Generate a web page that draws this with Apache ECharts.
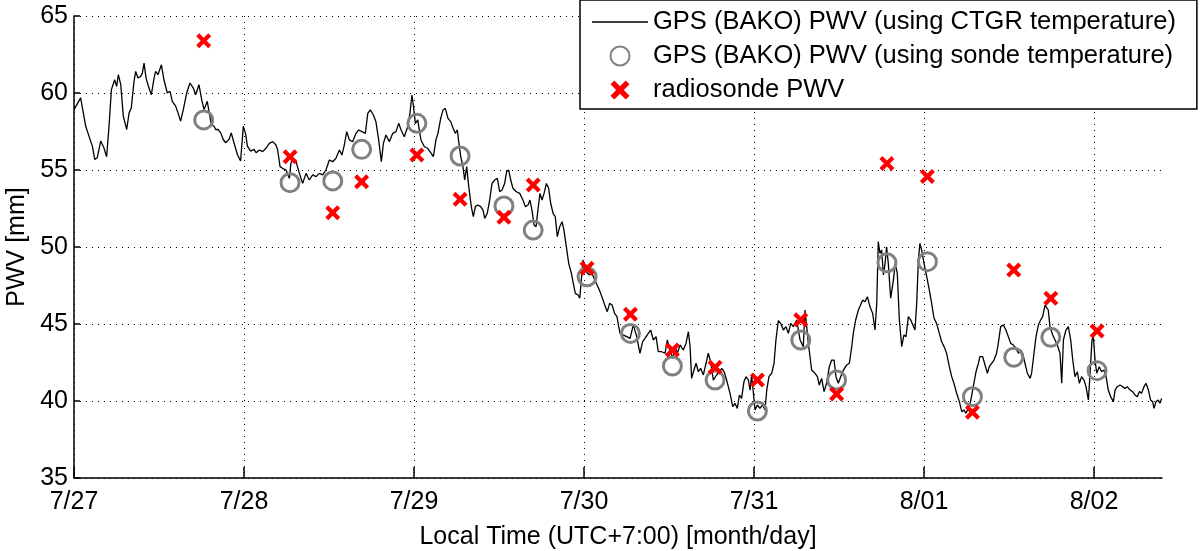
<!DOCTYPE html>
<html>
<head>
<meta charset="utf-8">
<script src="https://cdn.jsdelivr.net/npm/echarts@6/dist/echarts.min.js"></script>
<style>
  html, body { margin: 0; padding: 0; background: #fff; }
  #chart { width: 1200px; height: 551px; }
</style>
</head>
<body>
<div id="chart"></div>
<script>
// x = days since 7/27 00:00 local time
const dayLabels = ['7/27', '7/28', '7/29', '7/30', '7/31', '8/01', '8/02']
const dayTicks = [0, 1, 2, 3, 4, 5, 6]
const yTicks = [35, 40, 45, 50, 55, 60, 65]

// GPS (BAKO) PWV using CTGR temperature, [day, mm]
const gpsCtgr = [
  [0, 58.92], [0.039, 59.68], [0.049, 59.57], [0.069, 57.84], [0.088, 57.20], [0.108, 56.55], [0.122, 55.69], [0.137, 55.80],
  [0.157, 56.88], [0.176, 56.44], [0.192, 55.86], [0.206, 57.84], [0.220, 60.22], [0.239, 60.86], [0.251, 60.43], [0.261, 61.19],
  [0.275, 60.54], [0.290, 58.49], [0.310, 57.63], [0.324, 58.71], [0.337, 59.03], [0.353, 60.75], [0.363, 61.40], [0.376, 60.97],
  [0.392, 61.08], [0.402, 61.29], [0.412, 61.94], [0.424, 60.97], [0.441, 60.32], [0.455, 59.89], [0.471, 60.97], [0.480, 61.40],
  [0.494, 61.19], [0.514, 61.83], [0.529, 60.86], [0.549, 60.00], [0.565, 60.11], [0.578, 59.46], [0.598, 59.14], [0.612, 58.71],
  [0.627, 58.17], [0.643, 58.92], [0.663, 60.00], [0.682, 60.65], [0.702, 60.32], [0.716, 59.89], [0.735, 60.54], [0.751, 59.57],
  [0.765, 58.92], [0.784, 59.46], [0.794, 58.81], [0.808, 57.95], [0.824, 57.84], [0.833, 57.63], [0.847, 57.63], [0.863, 57.41],
  [0.878, 56.98], [0.892, 56.77], [0.912, 56.98], [0.925, 57.41], [0.941, 56.77], [0.961, 56.01], [0.980, 55.58], [0.996, 57.84],
  [1.010, 57.31], [1.020, 56.55], [1.039, 56.23], [1.059, 56.34], [1.071, 56.12],
  [1.090, 56.30], [1.110, 56.19], [1.129, 56.41], [1.149, 56.73], [1.169, 56.84], [1.188, 56.62], [1.198, 56.30], [1.212, 55.22],
  [1.227, 55.11], [1.247, 55.00], [1.257, 55.11], [1.267, 54.46], [1.276, 55.43], [1.290, 55.76], [1.306, 55.54], [1.316, 55.65],
  [1.326, 54.78], [1.345, 54.13], [1.365, 54.78], [1.384, 54.35], [1.404, 54.68], [1.424, 54.57], [1.443, 54.78], [1.463, 54.68],
  [1.482, 55.00], [1.502, 55.65], [1.522, 55.54], [1.541, 55.76], [1.561, 56.30], [1.576, 55.97], [1.590, 56.62], [1.604, 57.49],
  [1.620, 56.95], [1.639, 56.84], [1.659, 57.38], [1.675, 57.60], [1.694, 57.49], [1.714, 57.38], [1.728, 58.68], [1.743, 58.90],
  [1.761, 58.57], [1.776, 58.14], [1.792, 56.95], [1.808, 55.54], [1.820, 56.73], [1.835, 57.27], [1.855, 56.84], [1.875, 57.38],
  [1.894, 57.49], [1.910, 58.03], [1.924, 57.60], [1.943, 57.16], [1.963, 57.81], [1.976, 58.68], [1.988, 59.87], [1.996, 59.22],
  [2.008, 58.03], [2.022, 58.25], [2.031, 57.60], [2.041, 56.95], [2.061, 56.51], [2.080, 56.41], [2.094, 56.19], [2.114, 55.87],
  [2.129, 56.95],
  [2.141, 57.38], [2.157, 58.35], [2.171, 58.90], [2.184, 59.00], [2.200, 58.35], [2.216, 58.14], [2.230, 57.71], [2.243, 57.38],
  [2.255, 57.60], [2.263, 56.84], [2.275, 55.87], [2.288, 55.22], [2.298, 54.35], [2.310, 55.22], [2.322, 53.92], [2.337, 52.62],
  [2.349, 51.97], [2.361, 52.62], [2.376, 52.73], [2.392, 52.62], [2.406, 52.40], [2.416, 51.86], [2.431, 52.19], [2.445, 53.05],
  [2.459, 54.13], [2.475, 54.35], [2.490, 54.46], [2.504, 53.59], [2.518, 53.70], [2.533, 54.13], [2.545, 54.89], [2.557, 55.00],
  [2.569, 54.35], [2.582, 53.81], [2.602, 53.59], [2.622, 53.48], [2.641, 53.05], [2.655, 52.62], [2.671, 52.73], [2.682, 53.05],
  [2.694, 52.40], [2.706, 51.43], [2.718, 51.32], [2.729, 52.40], [2.741, 53.48], [2.753, 53.05], [2.765, 53.48], [2.779, 54.13],
  [2.792, 53.81], [2.804, 52.84], [2.818, 52.19], [2.831, 51.97], [2.843, 50.67], [2.857, 51.32], [2.871, 51.64], [2.882, 51.10],
  [2.896, 50.02], [2.910, 48.94], [2.926, 48.29], [2.937, 47.64], [2.949, 46.99], [2.965, 46.88], [2.975, 46.67], [2.984, 47.86],
  [2.994, 49.16], [3.004, 48.72], [3.020, 48.29], [3.033, 48.18], [3.047, 48.29], [3.063, 47.86], [3.082, 47.42], [3.098, 46.99],
  [3.112, 46.56], [3.125, 46.13], [3.137, 45.80], [3.151, 46.34], [3.165, 46.23], [3.180, 45.69], [3.194, 45.48], [3.204, 44.83],
  [3.212, 44.39],
  [3.251, 44.18], [3.271, 44.07], [3.290, 44.94], [3.310, 44.18], [3.329, 43.10], [3.345, 43.85], [3.359, 44.07], [3.378, 44.39],
  [3.392, 44.61], [3.408, 43.96], [3.424, 44.18], [3.437, 43.20], [3.457, 43.20], [3.477, 43.10], [3.490, 43.96], [3.506, 43.31],
  [3.522, 42.77], [3.535, 43.53], [3.549, 43.10], [3.565, 43.64], [3.584, 43.31], [3.600, 43.74], [3.614, 44.50], [3.624, 43.53],
  [3.633, 41.47], [3.647, 42.01], [3.659, 42.45], [3.673, 41.90], [3.686, 42.12], [3.702, 41.69], [3.718, 42.45], [3.731, 43.10],
  [3.745, 42.55], [3.761, 41.36], [3.780, 41.69], [3.796, 41.90], [3.810, 42.12], [3.824, 41.90], [3.839, 41.36], [3.859, 40.50],
  [3.875, 39.63], [3.888, 39.85], [3.902, 39.52], [3.914, 40.39], [3.927, 40.17], [3.941, 41.26], [3.953, 41.58], [3.967, 41.36],
  [3.977, 40.71], [3.986, 41.69], [3.996, 41.58], [4.006, 39.42], [4.020, 39.74], [4.035, 39.52], [4.051, 39.74], [4.065, 39.42],
  [4.075, 40.71], [4.088, 41.58], [4.104, 41.80], [4.118, 42.45], [4.129, 43.96], [4.143, 45.22], [4.157, 45.04], [4.173, 44.61],
  [4.188, 44.83], [4.202, 44.39], [4.216, 45.04], [4.231, 44.83], [4.251, 45.26], [4.271, 43.96],
  [4.290, 43.53], [4.300, 45.91], [4.320, 43.74], [4.339, 42.01], [4.359, 41.80], [4.373, 41.58], [4.384, 41.04], [4.398, 41.47],
  [4.412, 40.61], [4.427, 41.15], [4.443, 42.23], [4.457, 42.66], [4.471, 42.66], [4.482, 41.58], [4.496, 41.15], [4.510, 41.58],
  [4.526, 42.01], [4.545, 42.34], [4.561, 42.45], [4.575, 43.53], [4.584, 44.39], [4.598, 45.26], [4.614, 45.91], [4.627, 46.23],
  [4.639, 46.56], [4.653, 46.45], [4.667, 46.77], [4.682, 46.13], [4.698, 45.69], [4.712, 44.61], [4.722, 46.34], [4.731, 50.35],
  [4.741, 49.59], [4.751, 49.81], [4.761, 48.18], [4.771, 48.94], [4.780, 50.02], [4.790, 48.94], [4.804, 46.67], [4.820, 47.86],
  [4.831, 48.94], [4.843, 48.29], [4.855, 45.26], [4.869, 43.53], [4.882, 44.29], [4.894, 44.18], [4.908, 45.48], [4.922, 45.26],
  [4.933, 45.37], [4.947, 44.61], [4.957, 46.34], [4.967, 49.16], [4.976, 50.24], [4.986, 49.81], [5.000, 48.94], [5.016, 48.07],
  [5.031, 47.21], [5.045, 46.34], [5.059, 45.37], [5.074, 45.04], [5.090, 44.39], [5.104, 43.85], [5.118, 43.53], [5.133, 43.10],
  [5.149, 42.23], [5.163, 41.58], [5.176, 41.15], [5.192, 40.50], [5.208, 39.96], [5.222, 39.31], [5.235, 39.42], [5.247, 39.20],
  [5.261, 39.52], [5.274, 39.96], [5.290, 40.93], [5.306, 41.90], [5.320, 42.45], [5.329, 42.88],
  [5.345, 42.88], [5.359, 42.34], [5.373, 41.80], [5.384, 42.23], [5.398, 42.45], [5.412, 42.66], [5.427, 43.10], [5.437, 43.74],
  [5.451, 44.83], [5.467, 44.94], [5.482, 44.61], [5.496, 44.18], [5.510, 43.74], [5.525, 43.64], [5.541, 43.42], [5.555, 43.10],
  [5.569, 43.31], [5.580, 43.10], [5.594, 42.45], [5.608, 41.80], [5.624, 41.47], [5.633, 41.80], [5.647, 43.10], [5.659, 44.18],
  [5.673, 44.94], [5.686, 45.26], [5.698, 45.48], [5.712, 46.23], [5.722, 46.13], [5.731, 45.91], [5.741, 44.83], [5.757, 44.29],
  [5.771, 43.96], [5.784, 43.64], [5.800, 43.10], [5.810, 41.15], [5.820, 43.96], [5.835, 44.61], [5.849, 44.83], [5.863, 43.96],
  [5.875, 42.66], [5.888, 41.58], [5.902, 41.90], [5.914, 41.15], [5.927, 41.58], [5.941, 41.36], [5.953, 40.93], [5.967, 40.06],
  [5.977, 41.80], [5.988, 43.96], [5.996, 44.18], [6.006, 42.66], [6.016, 41.80], [6.031, 42.23], [6.045, 41.90], [6.059, 42.01],
  [6.071, 41.58], [6.084, 40.71], [6.098, 40.28], [6.114, 39.96], [6.124, 40.71], [6.137, 40.93], [6.153, 41.04], [6.169, 40.93],
  [6.182, 40.82], [6.196, 40.93], [6.212, 40.71], [6.227, 40.61], [6.241, 40.39], [6.255, 40.28], [6.267, 40.61], [6.280, 40.50],
  [6.294, 40.93], [6.306, 41.15], [6.320, 40.71], [6.333, 40.06], [6.345, 39.96], [6.353, 39.52], [6.365, 39.96], [6.378, 40.06],
  [6.388, 39.85], [6.398, 40.17]
]

// radiosonde launch times and the two PWV estimates
const sondeTime = [0.763, 1.271, 1.522, 1.692, 2.017, 2.271, 2.529, 2.701, 3.018, 3.273, 3.520, 3.771, 4.020, 4.275, 4.486, 4.782, 5.020, 5.285, 5.528, 5.746, 6.018]
const gpsSonde = [58.25, 54.18, 54.29, 56.34, 58.03, 55.91, 52.66, 51.10, 48.07, 44.39, 42.27, 41.36, 39.35, 43.96, 41.36, 48.98, 49.05, 40.28, 42.84, 44.14, 41.97]
const sondePwv = [63.40, 55.86, 52.23, 54.24, 55.97, 53.10, 51.93, 54.03, 48.62, 45.63, 43.31, 42.19, 41.36, 45.28, 40.45, 55.43, 54.57, 39.27, 48.51, 46.67, 44.55]

const seriesNames = [
  'GPS (BAKO) PWV (using CTGR temperature)',
  'GPS (BAKO) PWV (using sonde temperature)',
  'radiosonde PWV'
]

const font = '"Liberation Sans", Arial, Helvetica, sans-serif'
const crossPath = 'path://M0,2L2,0L5,3L8,0L10,2L7,5L10,8L8,10L5,7L2,10L0,8L3,5Z'
const lineIcon = 'path://M0,0L56,0L56,1.4L0,1.4Z'
const dotted = { color: '#000', width: 1, type: [1, 5] }

const chart = echarts.init(document.getElementById('chart'))

chart.setOption({
  animation: false,
  backgroundColor: '#fff',
  textStyle: { fontFamily: font, color: '#000' },
  grid: { left: 74, right: 38, top: 16, bottom: 73, containLabel: false, outerBoundsMode: 'none' },
  legend: {
    orient: 'vertical',
    left: 580,
    top: 0,
    data: [
      { name: seriesNames[0], icon: lineIcon },
      { name: seriesNames[1] },
      { name: seriesNames[2] }
    ],
    itemWidth: 56,
    itemHeight: 19,
    itemGap: 8,
    padding: [9, 21, 6, 12],
    backgroundColor: '#fff',
    borderColor: '#000',
    borderWidth: 1.5,
    borderRadius: 0,
    textStyle: { fontFamily: font, fontSize: 25.5, color: '#000', lineHeight: 25 }
  },
  xAxis: {
    type: 'value',
    min: 0,
    max: 6.4,
    interval: 1,
    name: 'Local Time (UTC+7:00) [month/day]',
    nameLocation: 'middle',
    nameGap: 47,
    nameTextStyle: { fontFamily: font, fontSize: 25, color: '#000' },
    axisLine: { show: true, onZero: false, lineStyle: { color: '#000', width: 1.5 } },
    axisTick: { show: true, inside: true, length: 11, customValues: dayTicks, lineStyle: { color: '#000', width: 1.5 } },
    axisLabel: {
      customValues: dayTicks,
      margin: 12,
      fontFamily: font,
      fontSize: 25,
      color: '#000',
      formatter: (v) => dayLabels[Math.round(v)]
    },
    splitLine: { show: true, lineStyle: dotted }
  },
  yAxis: {
    type: 'value',
    min: 35,
    max: 65,
    interval: 5,
    name: 'PWV [mm]',
    nameLocation: 'middle',
    nameGap: 44,
    nameTextStyle: { fontFamily: font, fontSize: 25, color: '#000' },
    axisLine: { show: true, lineStyle: { color: '#000', width: 1.5 } },
    axisTick: { show: true, inside: true, length: 6, customValues: yTicks, lineStyle: { color: '#000', width: 1.5 } },
    axisLabel: { margin: 6, fontFamily: font, fontSize: 25, color: '#000' },
    splitLine: { show: true, lineStyle: dotted }
  },
  series: [
    {
      name: seriesNames[0],
      type: 'line',
      data: gpsCtgr,
      symbol: 'none',
      lineStyle: { color: '#000', width: 1.3 },
      itemStyle: { color: '#000' },
      z: 2
    },
    {
      name: seriesNames[1],
      type: 'scatter',
      data: sondeTime.map((t, i) => [t, gpsSonde[i]]),
      symbol: 'circle',
      symbolSize: 18,
      itemStyle: { color: 'rgba(255,255,255,0)', borderColor: '#808080', borderWidth: 3, opacity: 1 },
      z: 3
    },
    {
      name: seriesNames[2],
      type: 'scatter',
      data: sondeTime.map((t, i) => [t, sondePwv[i]]),
      symbol: crossPath,
      symbolSize: 15,
      itemStyle: { color: '#ff0000', opacity: 1 },
      z: 4
    }
  ]
})
</script>
</body>
</html>
